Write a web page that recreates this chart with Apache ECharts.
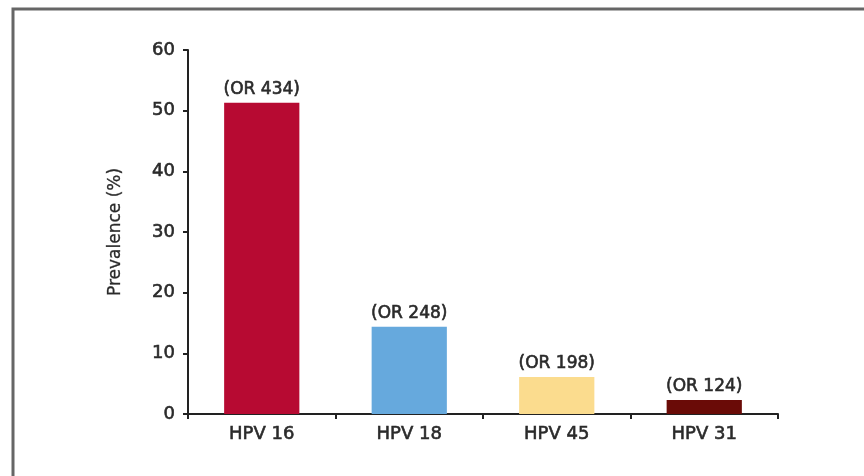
<!DOCTYPE html>
<html>
<head>
<meta charset="utf-8">
<script src="https://cdn.jsdelivr.net/npm/echarts@6/dist/echarts.min.js"></script>
<style>
  html, body { margin: 0; padding: 0; background: #fff; }
  #main { width: 864px; height: 476px; }
</style>
</head>
<body>
<div id="main"></div>
<script>
// data
const categories = ['HPV 16', 'HPV 18', 'HPV 45', 'HPV 31'];
const prevalence = [51.3, 14.4, 6.1, 2.3];
const oddsLabels = ['(OR 434)', '(OR 248)', '(OR 198)', '(OR 124)'];
const barColors = ['#B70A32', '#66A9DD', '#FBDC8E', '#6A0B07'];

// slightly heavier text, the scan looks thicker than regular weight
const heavy = {color: '#2a2a2a', textBorderColor: '#2a2a2a', textBorderWidth: 0.6};

let chart = echarts.init(document.getElementById('main'));
chart.setOption({
  animation: false,
  backgroundColor: '#fff',
  textStyle: {fontFamily: 'DejaVu Sans, Arial, sans-serif'},
  graphic: [{
    type: 'rect',
    shape: {x: 13, y: 9, width: 900, height: 500},
    style: {fill: 'none', stroke: '#666', lineWidth: 3}
  }],
  grid: {
    left: 188,
    right: 86,
    top: 50,
    bottom: 62
  },
  xAxis: {
    type: 'category',
    data: categories,
    axisLine: {lineStyle: {color: '#222', width: 2}},
    axisTick: {show: true, alignWithLabel: false, length: 5, lineStyle: {color: '#222', width: 2}},
    axisLabel: Object.assign({fontSize: 18, margin: 11}, heavy)
  },
  yAxis: {
    type: 'value',
    min: 0,
    max: 60,
    interval: 10,
    name: 'Prevalence (%)',
    nameLocation: 'middle',
    nameRotate: 90,
    nameGap: 64,
    nameTextStyle: {color: '#2a2a2a', fontSize: 17, textBorderColor: '#2a2a2a', textBorderWidth: 0.3},
    splitLine: {show: false},
    axisLine: {show: true, lineStyle: {color: '#222', width: 2}},
    axisTick: {show: true, length: 5, lineStyle: {color: '#222', width: 2}},
    axisLabel: Object.assign({fontSize: 18, margin: 13}, heavy)
  },
  series: [{
    type: 'bar',
    barWidth: '51%',
    data: prevalence.map((v, i) => ({
      value: v,
      itemStyle: {color: barColors[i]},
      label: {formatter: oddsLabels[i]}
    })),
    label: Object.assign({
      show: true,
      position: 'top',
      distance: 5,
      fontSize: 17
    }, heavy)
  }]
});
</script>
</body>
</html>
